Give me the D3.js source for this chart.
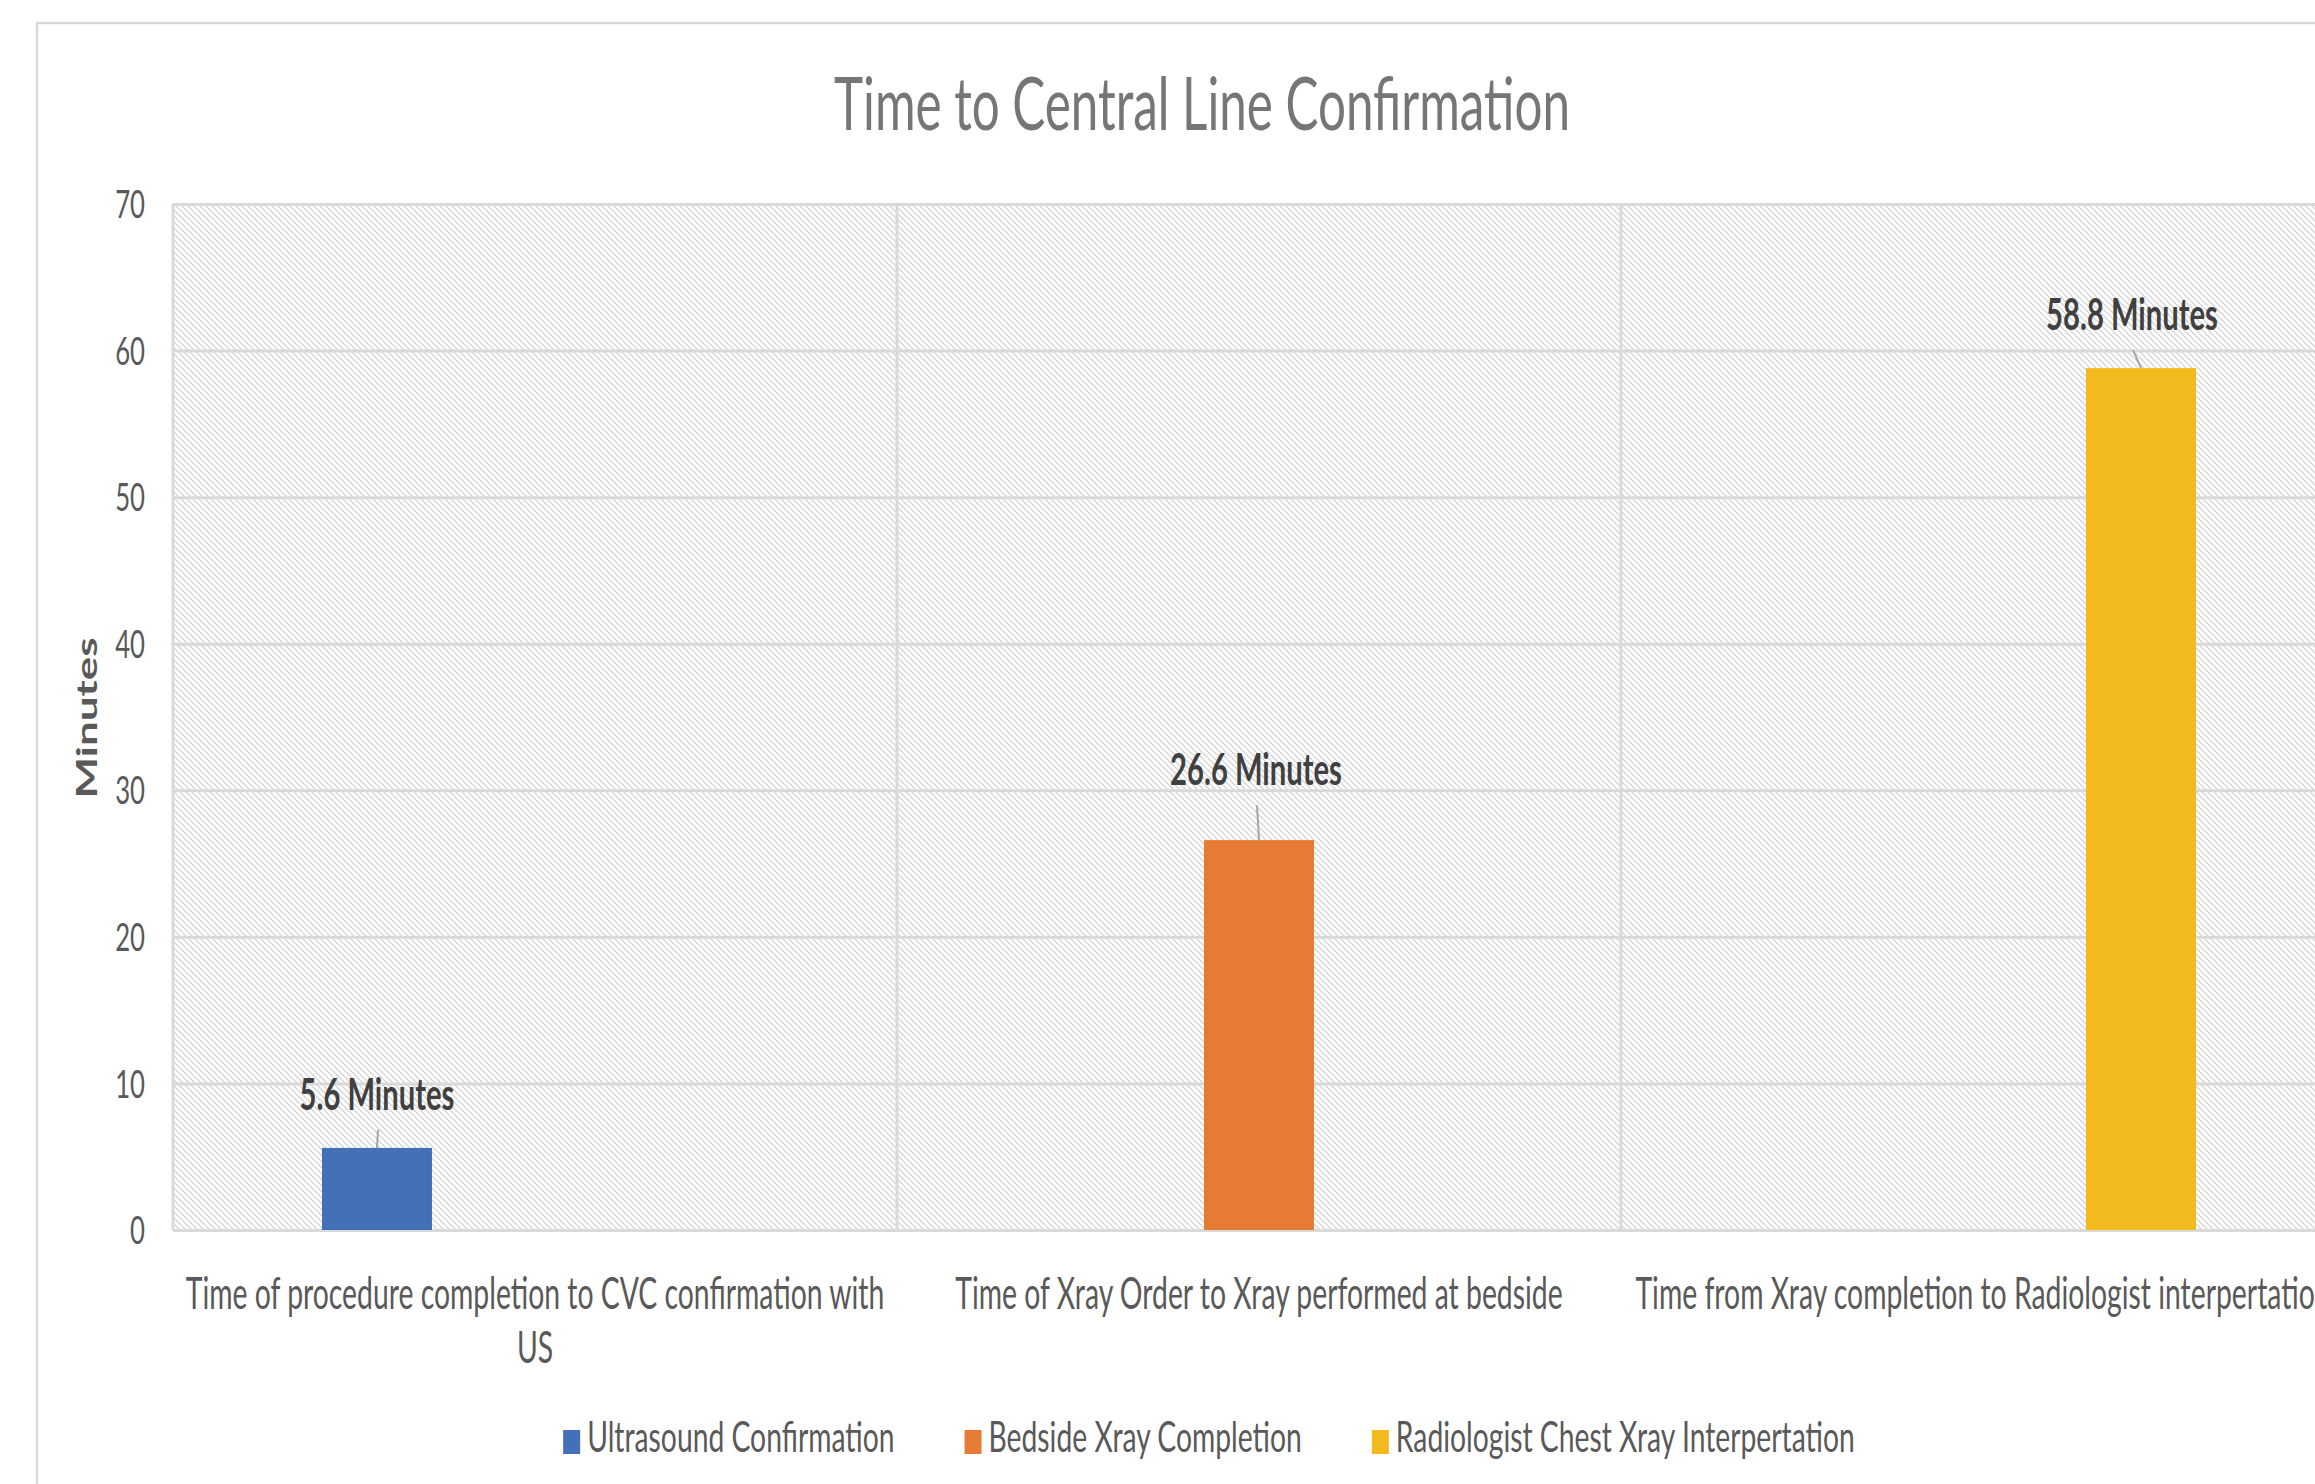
<!DOCTYPE html>
<html>
<head>
<meta charset="utf-8">
<script src="https://cdn.jsdelivr.net/npm/d3@7/dist/d3.min.js"></script>
<style>
  html, body { margin: 0; padding: 0; background: #ffffff; overflow: hidden; }
  svg { display: block; font-family: Lato, "Open Sans", sans-serif; }
</style>
</head>
<body>
<svg id="chart" width="2315" height="1484"></svg>
<script>
// ---------------- DATA ----------------
const categories = [
  "Time of procedure completion to CVC confirmation with US",
  "Time of Xray Order to Xray performed at bedside",
  "Time from Xray completion to Radiologist interpertation"
];
const seriesNames = [
  "Ultrasound Confirmation",
  "Bedside Xray Completion",
  "Radiologist Chest Xray Interpertation"
];
const ultrasoundValues  = [5.6, null, null];
const bedsideValues     = [null, 26.6, null];
const radiologistValues = [null, null, 58.8];
const valueLabels = ["5.6 Minutes", "26.6 Minutes", "58.8 Minutes"];
const yTicks = [0, 10, 20, 30, 40, 50, 60, 70];
const titleText = "Time to Central Line Confirmation";
const yAxisTitle = "Minutes";

// ---------------- STYLE / LAYOUT ----------------
const colors = ["#4470B8", "#E67B36", "#F3BA1E"];
const SX = 0.66;           // horizontal glyph compression seen in the reference
const SX_CAT = 0.63;
const SX_LEG = 0.658;
const plot = { left: 173, right: 2345, top: 204, bottom: 1230 };
const gridColor = "#d9d9d9";

const svg = d3.select("#chart");
const defs = svg.append("defs");
const pat = defs.append("pattern")
  .attr("id", "hatch").attr("patternUnits", "userSpaceOnUse")
  .attr("width", 6).attr("height", 6);
pat.append("rect").attr("width", 6).attr("height", 6).attr("fill", "#ffffff");
pat.append("path")
  .attr("d", "M0,0 L6,6 M-1,5 L1,7 M5,-1 L7,1")
  .attr("stroke", "#cdcdcd").attr("stroke-width", 1.1).attr("fill", "none");

function sText(g, x, y, txt, opts) {
  const sx = opts.sx || SX;
  const t = g.append("text")
    .attr("transform", `translate(${x},${y}) scale(${sx},1)` + (opts.rotate ? ` rotate(${opts.rotate})` : ""))
    .attr("text-anchor", opts.anchor || "middle")
    .attr("font-size", opts.size)
    .attr("font-weight", opts.weight || 400)
    .attr("fill", opts.fill || "#595959")
    .text(txt);
  return t;
}

// outer chart border
svg.append("rect")
  .attr("x", 37).attr("y", 23).attr("width", 2400).attr("height", 1600)
  .attr("fill", "none").attr("stroke", gridColor).attr("stroke-width", 2.5);

// scales
const x0 = d3.scaleBand().domain(categories).range([plot.left, plot.right]).padding(0);
const x1 = d3.scaleBand().domain(seriesNames).range([0, x0.bandwidth()])
  .paddingInner(0.304).paddingOuter(0.943);
const y = d3.scaleLinear().domain([0, 70]).range([plot.bottom, plot.top]);

// hatched plot background
svg.append("rect")
  .attr("x", plot.left).attr("y", plot.top)
  .attr("width", plot.right - plot.left).attr("height", plot.bottom - plot.top)
  .attr("fill", "url(#hatch)");

// horizontal gridlines + y tick labels via axis
const yAxis = svg.append("g")
  .attr("transform", `translate(${plot.left},0)`)
  .call(d3.axisLeft(y).tickValues(yTicks).tickSize(-(plot.right - plot.left)).tickFormat(d3.format("d")));
yAxis.select(".domain").remove();
yAxis.selectAll(".tick line").attr("stroke", gridColor).attr("stroke-width", 3);
yAxis.selectAll(".tick text")
  .attr("x", null).attr("dy", "0.35em")
  .attr("transform", `translate(-28,0) scale(${SX},1)`)
  .attr("text-anchor", "end")
  .attr("font-family", "Lato, 'Open Sans', sans-serif")
  .attr("font-size", 39).attr("fill", "#595959");

// vertical gridlines at category boundaries
const bounds = categories.map(c => x0(c)).concat([plot.right]);
svg.append("g").selectAll("line").data(bounds).join("line")
  .attr("x1", d => d).attr("x2", d => d)
  .attr("y1", plot.top).attr("y2", plot.bottom)
  .attr("stroke", gridColor).attr("stroke-width", 3);

// bars
const seriesData = [ultrasoundValues, bedsideValues, radiologistValues];
const barG = svg.append("g");
const labelDX = [0, -3, -9];
const labelGap = [38, 55, 38];
seriesData.forEach((vals, si) => {
  vals.forEach((v, ci) => {
    if (v == null) return;
    const bx = x0(categories[ci]) + x1(seriesNames[si]);
    const cx = bx + x1.bandwidth() / 2;
    barG.append("rect")
      .attr("x", bx).attr("y", y(v))
      .attr("width", x1.bandwidth()).attr("height", y(0) - y(v))
      .attr("fill", colors[si]);
    const ly = y(v) - labelGap[si];
    const lx = cx + labelDX[si];
    barG.append("line")
      .attr("x1", lx + 1).attr("y1", ly + 20)
      .attr("x2", cx).attr("y2", y(v))
      .attr("stroke", "#a6a6a6").attr("stroke-width", 2);
    sText(barG, lx, ly, valueLabels[si], { size: 43, weight: 700, fill: "#404040", sx: 0.68 });
  });
});

// x category labels (wrapped)
const xlG = svg.append("g");
const maxW = x0.bandwidth() - 4;
categories.forEach((c, ci) => {
  const cx = x0(c) + x0.bandwidth() / 2;
  const words = c.split(" ");
  const lines = [];
  let cur = [];
  const probe = svg.append("text").attr("font-size", 45).attr("font-family", "Lato, 'Open Sans', sans-serif");
  words.forEach(w => {
    const test = cur.concat([w]).join(" ");
    probe.text(test);
    if (probe.node().getComputedTextLength() * SX_CAT > maxW && cur.length) {
      lines.push(cur.join(" "));
      cur = [w];
    } else cur.push(w);
  });
  lines.push(cur.join(" "));
  probe.remove();
  lines.forEach((ln, li) => {
    sText(xlG, cx, 1309 + li * 54, ln, { size: 45, fill: "#595959", sx: SX_CAT });
  });
});

// title
sText(svg, 1202, 130, titleText, { size: 74, fill: "#767676", sx: 0.667 });

// y axis title
sText(svg, 97, 718, yAxisTitle, { size: 44, weight: 700, rotate: -90, fill: "#595959" });

// legend
const legG = svg.append("g");
const items = seriesNames.map((n, i) => {
  const g = legG.append("g");
  g.append("rect").attr("x", 0).attr("y", -22).attr("width", 17).attr("height", 24).attr("fill", colors[i]);
  const t = sText(g, 24, 0, n, { size: 43, anchor: "start", fill: "#595959", sx: SX_LEG });
  const w = 24 + t.node().getComputedTextLength() * SX_LEG;
  return { g, w };
});
const gap = 70;
const total = d3.sum(items, d => d.w) + gap * (items.length - 1);
let lx = 1209 - total / 2;
items.forEach(it => {
  it.g.attr("transform", `translate(${lx},1452)`);
  lx += it.w + gap;
});
</script>
</body>
</html>
